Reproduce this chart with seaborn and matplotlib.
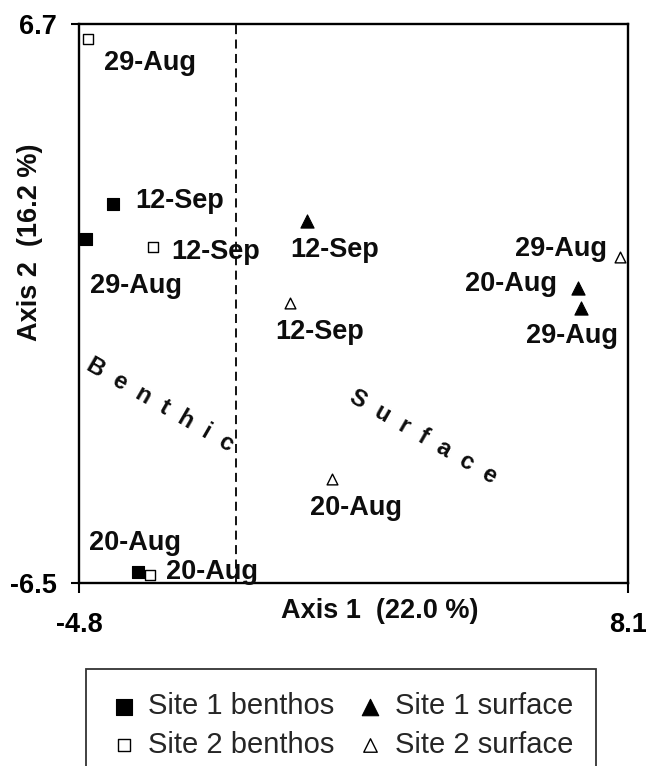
import matplotlib
matplotlib.use("Agg")
import matplotlib.pyplot as plt
import seaborn as sns
import pandas as pd

# ---- data ----
s1_benthos_x = [-4.00, -4.64, -3.41]
s1_benthos_y = [2.45, 1.62, -6.24]
s1_benthos_lab = ["12-Sep", "29-Aug", "20-Aug"]

s2_benthos_x = [-4.59, -3.06, -3.13]
s2_benthos_y = [6.35, 1.43, -6.31]
s2_benthos_lab = ["29-Aug", "12-Sep", "20-Aug"]

s1_surface_x = [0.56, 6.92, 6.99]
s1_surface_y = [2.05, 0.47, 0.00]
s1_surface_lab = ["12-Sep", "20-Aug", "29-Aug"]

s2_surface_x = [0.16, 7.91, 1.14]
s2_surface_y = [0.11, 1.20, -4.04]
s2_surface_lab = ["12-Sep", "29-Aug", "20-Aug"]

series_names = ["Site 1 benthos", "Site 2 benthos", "Site 1 surface", "Site 2 surface"]
x_ticks = [-4.8, 8.1]
y_ticks = [-6.5, 6.7]
divider_x = -1.1

# ---- layout / style ----
sns.set_theme(style="white")
plt.rcParams["font.family"] = ["Liberation Sans", "DejaVu Sans"]

fig = plt.figure(figsize=(6.46, 7.66), dpi=100)
ax = fig.add_axes([79/646, 1-583/766, 549/646, 559/766])

styles = [
    dict(marker="s", color="black", edgecolor="black", s=75, linewidth=0.8),
    dict(marker="s", color="white", edgecolor="black", s=45, linewidth=1.0),
    dict(marker="^", color="black", edgecolor="black", s=90, linewidth=0.8),
    dict(marker="^", color="white", edgecolor="black", s=60, linewidth=1.0),
]
xs = [s1_benthos_x, s2_benthos_x, s1_surface_x, s2_surface_x]
ys = [s1_benthos_y, s2_benthos_y, s1_surface_y, s2_surface_y]
labs = [s1_benthos_lab, s2_benthos_lab, s1_surface_lab, s2_surface_lab]
# label offsets in pixels (dx, dy)
offsets = [
    [(67, 3), (50, -47), (-3, 29)],
    [(62, -24), (63, -5), (62, 3)],
    [(28, -29), (-67, 4), (-9, -28)],
    [(30, -29), (-59, 8), (24, -29)],
]

for name, x, y, st, lb, off in zip(series_names, xs, ys, styles, labs, offsets):
    df = pd.DataFrame({"x": x, "y": y})
    sns.scatterplot(data=df, x="x", y="y", ax=ax, label=name, zorder=3, **st)
    for xi, yi, t, (dx, dy) in zip(x, y, lb, off):
        ax.annotate(t, (xi, yi), xytext=(dx, dy), textcoords="offset pixels",
                    ha="center", va="center", fontsize=19.5, fontweight="bold",
                    color="#0d0d0d", zorder=4)

ax.axvline(divider_x, color="black", lw=1.3, ls=(0, (5, 3)), zorder=1)

ax.set_xlim(x_ticks[0], x_ticks[1])
ax.set_ylim(y_ticks[0], y_ticks[1])
ax.set_xticks(x_ticks)
ax.set_yticks(y_ticks)
ax.set_xticklabels([f"{v:.1f}" for v in x_ticks], fontsize=19.5, fontweight="bold")
ax.set_yticklabels([f"{v:.1f}" for v in y_ticks], fontsize=19.5, fontweight="bold")
ax.tick_params(axis="x", direction="out", length=7, width=1.5, pad=14, colors="black")
ax.tick_params(axis="y", direction="out", length=6, width=1.5, pad=10, colors="black")
ax.tick_params(bottom=True, left=True)
for sp in ax.spines.values():
    sp.set_visible(True)
    sp.set_color("black")
    sp.set_linewidth(1.7)
ax.set_xlabel("")
ax.set_ylabel("")
ax.grid(False)

fig.text(380/646, 1-611/766, "Axis 1  (22.0 %)", ha="center", va="center",
         fontsize=19.5, fontweight="bold", color="#0d0d0d")
fig.text(30/646, 1-242/766, "Axis 2  (16.2 %)", ha="center", va="center",
         fontsize=19.5, fontweight="bold", rotation=90, color="#0d0d0d")

fig.text(160/646, 1-405/766, "B  e  n  t  h  i  c", ha="center", va="center",
         fontsize=17, fontweight="bold", rotation=-30, color="#0d0d0d")
fig.text(423/646, 1-437/766, "S  u  r  f  a  c  e", ha="center", va="center",
         fontsize=17, fontweight="bold", rotation=-30, color="#0d0d0d")

ax.get_legend().remove()
h, l = ax.get_legend_handles_labels()
leg = fig.legend(h, l, ncol=2, loc="upper center", bbox_to_anchor=(341/646, 1-669/766),
                 fontsize=21, frameon=True, fancybox=False, edgecolor="black",
                 borderpad=0.8, labelspacing=0.35, handletextpad=0.35, columnspacing=0.7,
                 handlelength=1.0, markerscale=1.25, borderaxespad=0.0)
leg.get_frame().set_linewidth(1.3)

fig.savefig("out.png", dpi=100)
